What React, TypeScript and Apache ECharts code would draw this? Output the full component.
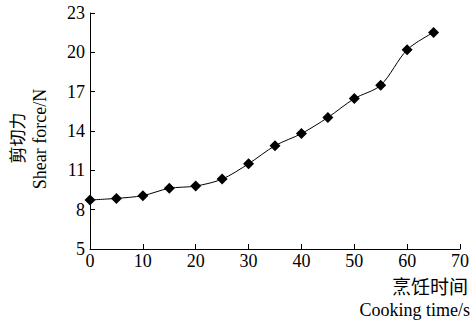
import React, { useEffect, useRef } from "react";
import * as echarts from "echarts";

const times = [0, 5, 10, 15, 20, 25, 30, 35, 40, 45, 50, 55, 60, 65];
const shearForce = [8.74, 8.86, 9.07, 9.63, 9.8, 10.33, 11.5, 12.88, 13.8, 15.03, 16.47, 17.49, 20.2, 21.52];
const yTicks = [5, 8, 11, 14, 17, 20, 23];
const xTicks = [0, 10, 20, 30, 40, 50, 60, 70];

const serif = "'Liberation Serif', 'Times New Roman', serif";
const cjk = "'Noto Sans CJK SC', sans-serif";

export default function App() {
  const ref = useRef<HTMLDivElement>(null);
  useEffect(() => {
    if (!ref.current) return;
    const chart = echarts.init(ref.current, null, { renderer: "svg" });
    chart.setOption({
      animation: false,
      backgroundColor: "#fff",
      grid: { left: 90, right: 11, top: 13, bottom: 74 },
      xAxis: {
        type: "value",
        min: xTicks[0],
        max: xTicks[xTicks.length - 1],
        interval: 10,
        axisLine: { lineStyle: { color: "#000", width: 1 } },
        axisTick: { inside: true, length: 5, lineStyle: { color: "#000" } },
        axisLabel: { color: "#000", fontFamily: serif, fontSize: 18, margin: 3 },
        splitLine: { show: false },
      },
      yAxis: {
        type: "value",
        min: yTicks[0],
        max: yTicks[yTicks.length - 1],
        interval: 3,
        axisLine: { show: true, lineStyle: { color: "#000", width: 1 } },
        axisTick: { show: true, inside: true, length: 5, lineStyle: { color: "#000" } },
        axisLabel: { color: "#000", fontFamily: serif, fontSize: 18, margin: 5 },
        splitLine: { show: false },
      },
      graphic: [
        {
          type: "text",
          x: 16,
          y: 138,
          rotation: Math.PI / 2,
          style: { text: "剪切力", fontFamily: cjk, fontSize: 17, fill: "#000", align: "center", verticalAlign: "middle" },
        },
        {
          type: "text",
          x: 40,
          y: 139,
          rotation: Math.PI / 2,
          style: { text: "Shear force/N", fontFamily: serif, fontSize: 18, fill: "#000", align: "center", verticalAlign: "middle" },
        },
        {
          type: "text",
          x: 468,
          y: 285,
          style: { text: "烹饪时间", fontFamily: cjk, fontSize: 19, fill: "#000", align: "right", verticalAlign: "middle" },
        },
        {
          type: "text",
          x: 470,
          y: 310,
          style: { text: "Cooking time/s", fontFamily: serif, fontSize: 18, fill: "#000", align: "right", verticalAlign: "middle" },
        },
      ],
      series: [
        {
          type: "line",
          data: times.map((t, i) => [t, shearForce[i]]),
          smooth: 0.3,
          symbol: "diamond",
          symbolSize: 11,
          itemStyle: { color: "#000" },
          lineStyle: { color: "#000", width: 1 },
        },
      ],
    });
    return () => chart.dispose();
  }, []);
  return <div ref={ref} style={{ width: 472, height: 323, position: "absolute", left: 0, top: 0 }} />;
}
